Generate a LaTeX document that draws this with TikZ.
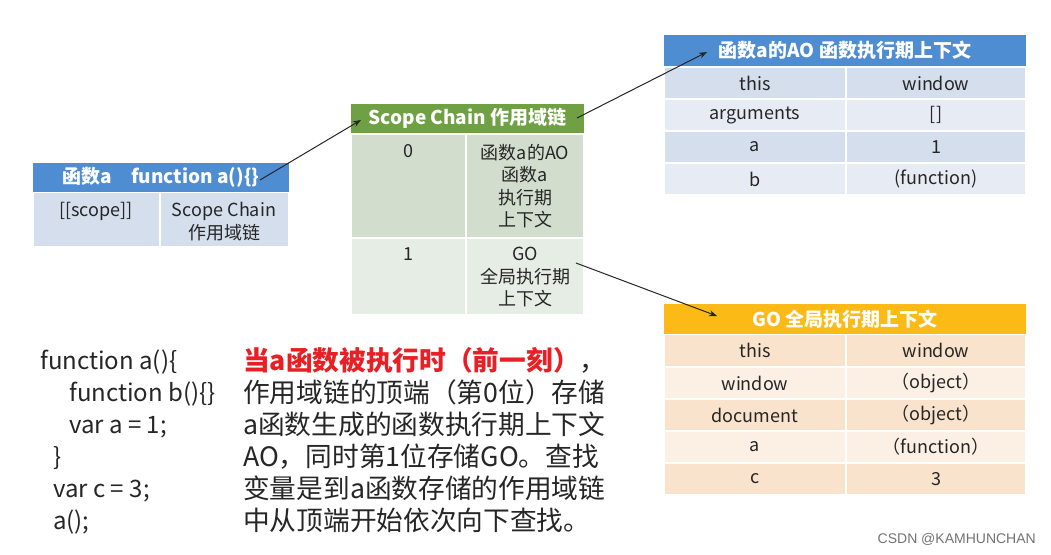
\documentclass[tikz,border=0pt]{standalone}
\usepackage{fontspec}
\usetikzlibrary{arrows.meta}
\setmainfont{Noto Sans CJK SC}
\newfontfamily\wmfont{Liberation Sans}
\definecolor{hblue}{HTML}{4F8DD2}
\definecolor{hgreen}{HTML}{6FA043}
\definecolor{horange}{HTML}{FBBA16}
\definecolor{bA}{HTML}{D4DEEC}
\definecolor{bB}{HTML}{E7ECF4}
\definecolor{gA}{HTML}{D2DDCE}
\definecolor{gB}{HTML}{E6EDE4}
\definecolor{oA}{HTML}{FAE3CC}
\definecolor{oB}{HTML}{FCF0E5}
\definecolor{txt}{HTML}{262626}
\definecolor{notered}{HTML}{E82025}
\newcommand\cellbox[7]{%
  \fill[#6] ({#2+1},{#3+1}) rectangle ({#4-1},{#5-1});
  \node[celltext] (#1) at ({(#2+#4)/2},{(#3+#5)/2}) {#7};}
\newcommand\headbox[7]{%
  \fill[#6] ({#2},{#3}) rectangle ({#4},{#5});
  \node[headtext] (#1) at ({(#2+#4)/2},{(#3+#5)/2}) {#7};}
\tikzset{
  celltext/.style={inner sep=0pt, text=txt, align=center, font=\fontsize{18}{22}\selectfont},
  headtext/.style={inner sep=0pt, text=white, font=\bfseries\fontsize{19}{22}\selectfont},
  toptext/.style={inner sep=0pt, text=txt, align=center, anchor=north, font=\fontsize{18}{22.5}\selectfont},
  codeline/.style={inner sep=0pt, anchor=base west, text=txt, font=\fontsize{24}{32}\selectfont},
  noteline/.style={inner sep=0pt, anchor=base west, text=txt, font=\fontsize{26.7}{32}\selectfont},
  link/.style={draw=txt, line width=1pt, -{Stealth[length=8pt,width=6pt]}}
}
\begin{document}
\begin{tikzpicture}[x=1pt,y=-1pt]
\useasboundingbox (0,0) rectangle (1051,554);
\fill[white] (0,0) rectangle (1051,554);

% table: function a
\headbox{fa}{33}{163}{289}{192}{hblue}{函数a\quad function a()\{\}}
\cellbox{fa1}{33}{192}{160}{247}{bA}{}
\cellbox{fa2}{160}{192}{289}{247}{bA}{}
\node[toptext] (fa1t) at (96,202) {[[scope]]};
\node[toptext] (fa2t) at (224,202) {Scope Chain\\作用域链};

% scope chain
\headbox{sc}{351}{104}{584}{133}{hgreen}{Scope Chain 作用域链}
\cellbox{sc1}{351}{134}{466}{238}{gA}{}
\cellbox{sc2}{466}{134}{584}{238}{gA}{}
\cellbox{sc3}{351}{238}{466}{315}{gB}{}
\cellbox{sc4}{466}{238}{584}{315}{gB}{}
\node[toptext] (sc1t) at (408,144) {0};
\node[toptext] (sc2t) at (525,144) {函数a的AO\\函数a\\执行期\\上下文};
\node[toptext] (sc3t) at (408,247) {1};
\node[toptext] (sc4t) at (525,247) {GO\\全局执行期\\上下文};

% AO table
\headbox{ao}{664}{35}{1026}{66}{hblue}{函数a的AO 函数执行期上下文}
\cellbox{ao11}{664}{67}{846}{99}{bA}{this}
\cellbox{ao12}{846}{67}{1026}{99}{bA}{window}
\cellbox{ao21}{664}{99}{846}{131}{bB}{arguments}
\cellbox{ao22}{846}{99}{1026}{131}{bB}{[]}
\cellbox{ao31}{664}{131}{846}{163}{bA}{a}
\cellbox{ao32}{846}{131}{1026}{163}{bA}{1}
\cellbox{ao41}{664}{163}{846}{195}{bB}{b}
\cellbox{ao42}{846}{163}{1026}{195}{bB}{(function)}

% GO table
\headbox{go}{664}{304}{1026}{334}{horange}{GO 全局执行期上下文}
\cellbox{go11}{664}{334}{846}{367}{oA}{this}
\cellbox{go12}{846}{334}{1026}{367}{oA}{window}
\cellbox{go21}{664}{367}{846}{399}{oB}{window}
\cellbox{go22}{846}{367}{1026}{399}{oB}{（object）}
\cellbox{go31}{664}{399}{846}{431}{oA}{document}
\cellbox{go32}{846}{399}{1026}{431}{oA}{（object）}
\cellbox{go41}{664}{431}{846}{463}{oB}{a}
\cellbox{go42}{846}{431}{1026}{463}{oB}{（function）}
\cellbox{go51}{664}{463}{846}{495}{oA}{c}
\cellbox{go52}{846}{463}{1026}{495}{oA}{3}

% arrows
\coordinate (s1) at (260,180);
\coordinate (e1) at (361,120);
\coordinate (s2) at (577,118);
\coordinate (e2) at (707,52);
\coordinate (s3) at (576,263);
\coordinate (e3) at (717,316);
\draw[link] (s1) -- (e1);
\draw[link] (s2) -- (e2);
\draw[link] (s3) -- (e3);

% code
\node[codeline] (c1) at (40,369) {function a()\{};
\node[codeline] (c2) at (69,401) {function b()\{\}};
\node[codeline] (c3) at (69,433) {var a = 1;};
\node[codeline] (c4) at (53,465) {\}};
\node[codeline] (c5) at (53,497) {var c = 3;};
\node[codeline] (c6) at (53,529) {a();};

% note
\node[noteline] (n1) at (243,370) {\textcolor{notered}{\bfseries 当a函数被执行时（前一刻）}，};
\node[noteline] (n2) at (243,402) {作用域链的顶端（第0位）存储};
\node[noteline] (n3) at (243,434) {a函数生成的函数执行期上下文};
\node[noteline] (n4) at (243,466) {AO，同时第1位存储GO。查找};
\node[noteline] (n5) at (243,498) {变量是到a函数存储的作用域链};
\node[noteline] (n6) at (243,530) {中从顶端开始依次向下查找。};

\node[inner sep=0pt, anchor=base east, text=black!55, font=\wmfont\fontsize{14}{16}\selectfont] (wm) at (1036,543) {CSDN @KAMHUNCHAN};
\end{tikzpicture}
\end{document}
